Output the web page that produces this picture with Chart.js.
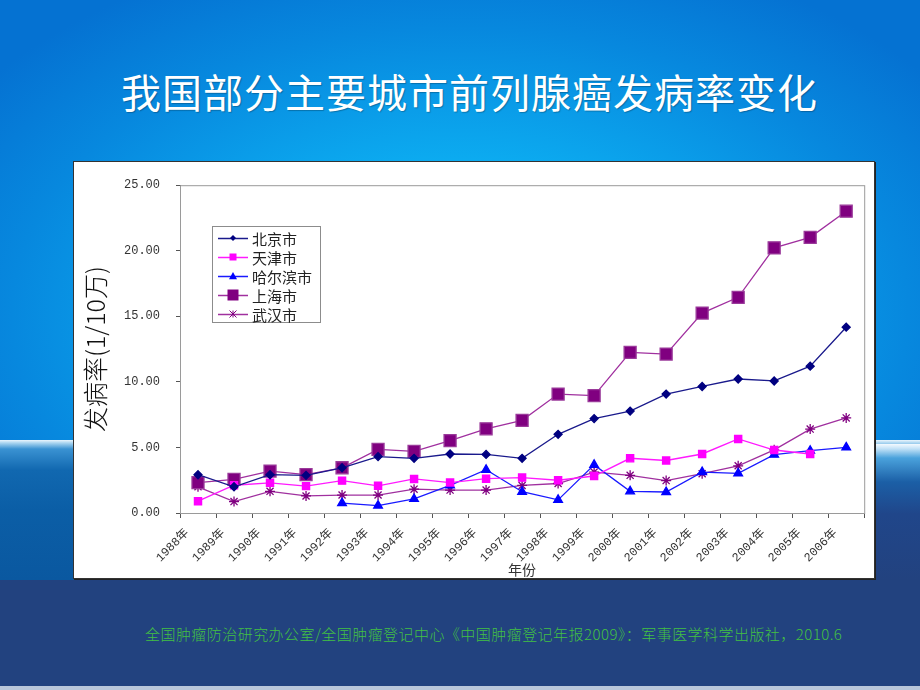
<!DOCTYPE html>
<html>
<head>
<meta charset="utf-8">
<script src="https://cdn.jsdelivr.net/npm/chart.js@4/dist/chart.umd.min.js"></script>
<style>
  html, body { margin: 0; padding: 0; }
  body { width: 920px; height: 690px; position: relative; overflow: hidden; background: #22427f; }
  #sky { position: absolute; left: 0; top: 0; width: 920px; height: 446px;
    background: radial-gradient(ellipse 65% 85% at 50% 70%, #18c2f7 0%, #0cabf0 40%, #0788de 75%, #0572d2 100%); }
  #sea { position: absolute; left: 0; top: 440px; width: 920px; height: 140px;
    background: linear-gradient(to bottom, #eaf5fd 0px, #a8d4f0 3px, #3a92d2 9px, #1168b0 30px, #0b5ea6 70px, #0a58a0 140px); }
  #seaR { position: absolute; left: 872px; top: 444px; width: 48px; height: 136px;
    background: linear-gradient(to bottom, #f4faff 0px, #bfe0f6 5px, #4aa2dc 14px, #1b5fa6 38px, #20468a 70px, #22427f 136px); }
  #foot { position: absolute; left: 0; top: 686px; width: 920px; height: 4px; background: #b9c6da; }
  #title { position: absolute; left: 121px; top: 62px; width: 720px; color: #fff;
    font-family: "Noto Sans CJK SC", sans-serif; font-size: 40px; font-weight: 400; letter-spacing: 1px;
    white-space: nowrap; text-shadow: 1px 1px 1px rgba(0,0,0,0.25); }
  #panel { position: absolute; left: 73px; top: 161px; width: 802px; height: 418px; box-sizing: border-box;
    background: #fff; border: 1px solid #333; box-shadow: 1px 1px 0 #222; }
  #wrap { position: absolute; left: 74px; top: 162px; width: 800px; height: 416px; }
  #source { position: absolute; left: 145px; top: 623px; color: #43c043;
    font-family: "Noto Sans CJK SC", sans-serif; font-size: 15px; font-weight: 300; letter-spacing: 0.45px; white-space: nowrap; }
</style>
</head>
<body>
<div id="sky"></div>
<div id="sea"></div>
<div id="seaR"></div>
<div id="foot"></div>
<div id="title">我国部分主要城市前列腺癌发病率变化</div>
<div id="panel"></div>
<div id="wrap"><canvas id="chart"></canvas></div>
<div id="source">全国肿瘤防治研究办公室/全国肿瘤登记中心《中国肿瘤登记年报2009》：军事医学科学出版社，2010.6</div>

<script>
const years = ['1988年', '1989年', '1990年', '1991年', '1992年', '1993年', '1994年', '1995年', '1996年', '1997年',
  '1998年', '1999年', '2000年', '2001年', '2002年', '2003年', '2004年', '2005年', '2006年'];

const beijing = [2.92, 2.0, 2.92, 2.87, 3.45, 4.3, 4.17, 4.5, 4.47, 4.17, 6.0, 7.2, 7.77, 9.07, 9.65, 10.22, 10.07, 11.2, 14.17];
const tianjin = [0.9, 2.12, 2.3, 2.05, 2.47, 2.07, 2.6, 2.32, 2.62, 2.7, 2.5, 2.82, 4.17, 4.0, 4.5, 5.65, 4.8, 4.5, null];
const harbin = [null, null, null, null, 0.75, 0.57, 1.07, 2.1, 3.3, 1.62, 1.0, 3.67, 1.65, 1.6, 3.12, 3.02, 4.45, 4.75, 5.0];
const shanghai = [2.32, 2.57, 3.2, 2.92, 3.45, 4.85, 4.7, 5.52, 6.42, 7.07, 9.07, 8.95, 12.25, 12.12, 15.25, 16.45, 20.22, 21.02, 23.02];
const wuhan = [2.0, 0.87, 1.65, 1.3, 1.37, 1.37, 1.82, 1.75, 1.75, 2.1, 2.25, 3.12, 2.87, 2.47, 3.0, 3.6, 4.82, 6.4, 7.25];

const yTicks = [0, 5, 10, 15, 20, 25];

const monoFont = "'Liberation Mono', 'Noto Sans CJK SC', monospace";

// plot frame: gray box around the plot area
const framePlugin = {
  id: 'frame',
  beforeDatasetsDraw(chart) {
    const { ctx, chartArea: a } = chart;
    ctx.save();
    ctx.strokeStyle = '#9a9a9a';
    ctx.lineWidth = 1;
    ctx.strokeRect(a.left + 0.5, a.top + 0.5, a.right - a.left, a.bottom - a.top);
    ctx.restore();
  }
};

function drawMarker(ctx, style, x, y, r, color) {
  ctx.fillStyle = color;
  ctx.strokeStyle = color;
  ctx.beginPath();
  if (style === 'rectRot') {
    ctx.moveTo(x, y - r); ctx.lineTo(x + r, y); ctx.lineTo(x, y + r); ctx.lineTo(x - r, y); ctx.closePath(); ctx.fill();
  } else if (style === 'rect') {
    ctx.rect(x - r, y - r, 2 * r, 2 * r); ctx.fill();
  } else if (style === 'triangle') {
    ctx.moveTo(x, y - r); ctx.lineTo(x + r, y + r * 0.8); ctx.lineTo(x - r, y + r * 0.8); ctx.closePath(); ctx.fill();
  } else if (style === 'star') {
    ctx.lineWidth = 1;
    ctx.moveTo(x - r, y - r); ctx.lineTo(x + r, y + r);
    ctx.moveTo(x + r, y - r); ctx.lineTo(x - r, y + r);
    ctx.moveTo(x, y - r); ctx.lineTo(x, y + r);
    ctx.stroke();
  }
}

// legend box placed inside the plot, top-left
const boxLegend = {
  id: 'boxLegend',
  afterDraw(chart) {
    const { ctx } = chart;
    const left = 138, top = 64, w = 108, h = 96;
    ctx.save();
    ctx.fillStyle = '#fff';
    ctx.fillRect(left, top, w, h);
    ctx.strokeStyle = '#8c8c8c';
    ctx.lineWidth = 1;
    ctx.strokeRect(left + 0.5, top + 0.5, w, h);
    ctx.font = "15px 'Noto Sans CJK SC'";
    ctx.textBaseline = 'middle';
    chart.data.datasets.forEach((ds, i) => {
      const y = top + 12 + i * 19;
      ctx.strokeStyle = ds.borderColor;
      ctx.lineWidth = 1.5;
      ctx.beginPath();
      ctx.moveTo(left + 6, y + 0.5);
      ctx.lineTo(left + 36, y + 0.5);
      ctx.stroke();
      drawMarker(ctx, ds.pointStyle, left + 21, y, ds.legendSize, ds.pointBackgroundColor);
      ctx.fillStyle = '#222';
      ctx.fillText(ds.label, left + 40, y + 1);
    });
    ctx.restore();
  }
};

new Chart(document.getElementById('chart'), {
  type: 'line',
  data: {
    labels: years,
    datasets: [
      { label: '北京市', data: beijing, borderColor: '#1a1a8c', pointBackgroundColor: '#000080', pointBorderColor: '#000080',
        pointStyle: 'rectRot', pointRadius: 4, borderWidth: 1.3, legendSize: 3 },
      { label: '天津市', data: tianjin, borderColor: '#ff1aff', pointBackgroundColor: '#ff00ff', pointBorderColor: '#ff00ff',
        pointStyle: 'rect', pointRadius: 5, borderWidth: 1.4, legendSize: 3.5 },
      { label: '哈尔滨市', data: harbin, borderColor: '#1a1aff', pointBackgroundColor: '#0000ff', pointBorderColor: '#0000ff',
        pointStyle: 'triangle', pointRadius: 5, borderWidth: 1.3, legendSize: 4 },
      { label: '上海市', data: shanghai, borderColor: '#a0309f', pointBackgroundColor: '#800080', pointBorderColor: '#9a3a9a',
        pointStyle: 'rect', pointRadius: 8.5, borderWidth: 1.3, legendSize: 5.5 },
      { label: '武汉市', data: wuhan, borderColor: '#a0309f', pointBackgroundColor: '#800080', pointBorderColor: '#800080',
        pointStyle: 'star', pointRadius: 5, borderWidth: 1.3, legendSize: 3.5 }
    ]
  },
  options: {
    responsive: true,
    maintainAspectRatio: false,
    animation: false,
    spanGaps: false,
    layout: { padding: { top: 18, right: 4, left: 0, bottom: 0 } },
    elements: {
      line: { tension: 0, fill: false },
      point: { borderWidth: 1, hoverRadius: 5 }
    },
    plugins: {
      legend: { display: false },
      tooltip: { enabled: false }
    },
    scales: {
      x: {
        offset: true,
        grid: { drawOnChartArea: false, drawTicks: true, tickLength: 5, color: '#555', offset: true },
        border: { color: '#555', width: 1 },
        ticks: {
          autoSkip: false, minRotation: 45, maxRotation: 45, padding: 8, labelOffset: -11,
          color: '#333', font: { family: monoFont, size: 12 }
        },
        title: {
          display: true, text: '年份', color: '#333', padding: { top: 0, bottom: 0 },
          font: { family: "'Noto Sans CJK SC'", size: 14 }
        },
        afterFit(scale) { scale.height = 65; }
      },
      y: {
        min: 0, max: 25,
        afterBuildTicks(scale) { scale.ticks = yTicks.map(v => ({ value: v })); },
        grid: { drawOnChartArea: false, drawTicks: true, tickLength: 4, color: '#555' },
        border: { color: '#555', width: 1 },
        ticks: {
          padding: 16, color: '#333',
          font: { family: monoFont, size: 12 },
          callback: v => Number(v).toFixed(2)
        },
        title: {
          display: true, text: '发病率(1/10万)', color: '#111', padding: { top: 6, bottom: 0 },
          font: { family: "'Noto Sans CJK SC'", size: 25, weight: 300 }
        },
        afterFit(scale) { scale.width = 106; }
      }
    }
  },
  plugins: [framePlugin, boxLegend]
});
</script>
</body>
</html>
